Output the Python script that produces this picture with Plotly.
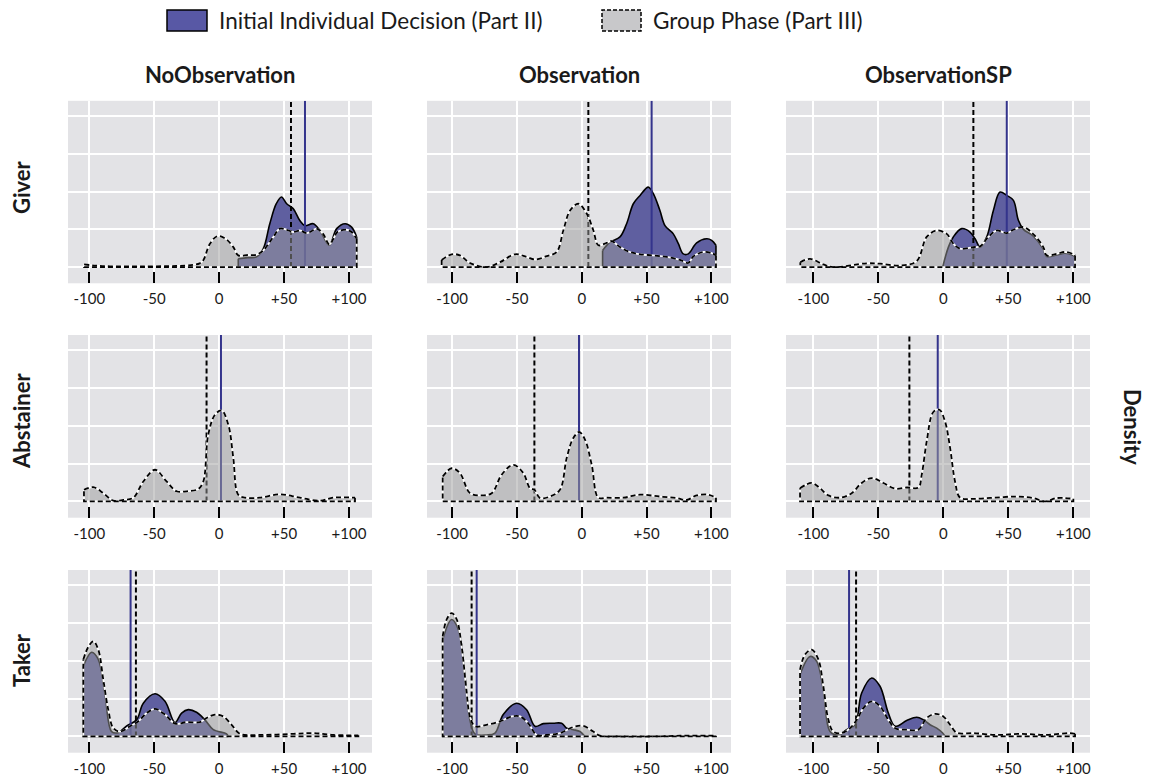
import plotly.graph_objects as go

W, H = 1154, 783
OFF = 8  # page body margin offset of the rendered figure

conditions = ["NoObservation", "Observation", "ObservationSP"]
roles = ["Giver", "Abstainer", "Taker"]
tick_vals = [-100, -50, 0, 50, 100]
tick_text = ["-100", "-50", "0", "+50", "+100"]
grid_y = [0, 1, 2, 3, 4]
legend_labels = ["Initial Individual Decision (Part II)", "Group Phase (Part III)"]

# ---------------- Giver ----------------
giver_noobs_group_x = [-104, -95, -84, -60, -33, -20, -15, -12.2, -7.1, -1.4, 5, 10.9, 14.7, 22, 28.8, 34, 38, 41.7, 46.8, 52, 57, 62.2, 67.4, 71, 75, 80, 84.8, 88, 91, 98.2, 102, 104.6, 105.9]
giver_noobs_group_y = [0.07, 0.04, 0.02, 0.02, 0.03, 0.06, 0.1, 0.18, 0.62, 0.82, 0.75, 0.53, 0.31, 0.32, 0.33, 0.44, 0.62, 0.8, 1.02, 0.99, 0.93, 0.97, 0.9, 0.95, 1.02, 0.88, 0.6, 0.75, 0.93, 0.99, 0.93, 0.82, 0.75]
giver_noobs_init_x = [14.7, 22, 28.8, 34, 39, 44, 48, 52, 57, 62, 66, 72.5, 77.6, 84.8, 90.5, 97, 102, 105.9]
giver_noobs_init_y = [0.22, 0.25, 0.27, 0.49, 1.15, 1.68, 1.86, 1.68, 1.55, 1.24, 1.1, 1.15, 0.97, 0.58, 1.02, 1.15, 1.06, 0.8]

giver_obs_group_x = [-108, -100.3, -93.9, -86.2, -73.3, -63, -51.5, -42.5, -36, -27, -19.3, -14.2, -9, -2.6, 3.8, 9, 12.8, 19.2, 23, 29.5, 37, 44.9, 55, 65.5, 75.8, 82.2, 86, 93.8, 100.2, 103.5]
giver_obs_group_y = [0.19, 0.34, 0.31, 0.11, 0.0, 0.13, 0.34, 0.27, 0.2, 0.29, 0.4, 0.97, 1.5, 1.68, 1.42, 0.97, 0.58, 0.64, 0.69, 0.53, 0.4, 0.34, 0.31, 0.27, 0.19, 0.11, 0.28, 0.4, 0.37, 0.31]
giver_obs_init_x = [16.1, 21.8, 29.5, 34.6, 39.8, 45, 51.3, 55.2, 60.3, 64.2, 70.6, 74.5, 78.3, 82.2, 88.6, 96.3, 100.2, 103.5]
giver_obs_init_y = [0.44, 0.66, 0.8, 1.15, 1.68, 1.9, 2.12, 1.95, 1.5, 1.1, 0.88, 0.62, 0.35, 0.35, 0.64, 0.75, 0.71, 0.58]

giver_obssp_group_x = [-110, -102.5, -92.3, -84.6, -59, -48.7, -33.3, -20.5, -12.8, -5.1, 2.6, 7.7, 12.9, 23.1, 28.3, 34.6, 41, 48.8, 53.9, 61.6, 69.3, 76.9, 79.5, 87.2, 93.6, 100, 101.3]
giver_obssp_group_y = [0.13, 0.22, 0.07, 0.0, 0.1, 0.09, 0.04, 0.16, 0.8, 0.97, 0.88, 0.62, 0.49, 0.53, 0.55, 0.8, 0.97, 0.9, 0.99, 1.06, 0.87, 0.53, 0.31, 0.35, 0.4, 0.34, 0.3]
giver_obssp_init_x = [-0.5, 3.9, 7.7, 14.1, 20.5, 24.4, 28.3, 33.4, 38.5, 43.6, 48.8, 53.9, 57.7, 61.6, 69.3, 76.9, 79.5, 87.2, 93.6, 100, 101.3]
giver_obssp_init_y = [0.0, 0.53, 0.8, 1.02, 0.93, 0.75, 0.53, 0.8, 1.5, 1.99, 1.9, 1.77, 1.24, 1.0, 0.82, 0.48, 0.28, 0.32, 0.37, 0.31, 0.28]

# ---------------- Abstainer ----------------
abst_noobs_group_x = [-104.1, -96.9, -89.2, -81.5, -73.8, -66.1, -58.4, -49.4, -40.5, -32.8, -25.1, -16.1, -12.2, -8.4, -3.2, 1.9, 7, 10.9, 14.7, 19.9, 31.4, 46.8, 62.2, 77.6, 87.9, 104.6]
abst_noobs_group_y = [0.31, 0.38, 0.22, 0.02, 0.04, 0.1, 0.53, 0.84, 0.53, 0.27, 0.27, 0.33, 0.53, 1.77, 2.3, 2.41, 2.04, 1.15, 0.18, 0.1, 0.1, 0.19, 0.1, 0.02, 0.1, 0.1]

abst_obs_group_x = [-107.2, -100.3, -93.9, -86.2, -78.4, -69.4, -61.7, -52.7, -45, -39.9, -36.5, -32.2, -24.5, -16.8, -11.6, -6.5, -1.9, 2.5, 7.7, 12.8, 19.2, 32.1, 44.9, 60.3, 73.2, 80.9, 88.6, 97.6, 103.5]
abst_obs_group_y = [0.66, 0.88, 0.75, 0.22, 0.16, 0.22, 0.71, 0.97, 0.75, 0.35, 0.31, 0.09, 0.13, 0.31, 1.15, 1.68, 1.84, 1.64, 0.97, 0.1, 0.1, 0.1, 0.18, 0.13, 0.09, 0.04, 0.16, 0.18, 0.1]

abst_obssp_group_x = [-110.2, -101.2, -94.8, -88.4, -79.4, -70.5, -62.8, -55.1, -46.1, -37.1, -28.2, -19.2, -16.6, -12.8, -7.7, -3, 1.3, 5.2, 9, 12.9, 23.1, 38.5, 56.4, 69.3, 78.2, 87.2, 100]
abst_obssp_group_y = [0.35, 0.49, 0.35, 0.16, 0.1, 0.22, 0.49, 0.62, 0.49, 0.34, 0.37, 0.37, 0.71, 1.59, 2.37, 2.43, 2.12, 1.42, 0.53, 0.1, 0.07, 0.1, 0.13, 0.09, 0.0, 0.09, 0.07]

# ---------------- Taker ----------------
taker_noobs_group_x = [-104.6, -100.8, -96.9, -93.1, -89.2, -85.4, -81.5, -76.4, -68.7, -62.3, -55.9, -49.4, -41.7, -34, -25.1, -14.8, -9.7, -3.2, 3.2, 9.6, 16, 31.4, 57.1, 72.5, 87.9, 107.2]
taker_noobs_group_y = [2.04, 2.37, 2.52, 2.3, 1.5, 0.71, 0.22, 0.13, 0.27, 0.4, 0.62, 0.73, 0.58, 0.34, 0.38, 0.38, 0.49, 0.58, 0.53, 0.31, 0.07, 0.04, 0.07, 0.09, 0.04, 0.03]
taker_noobs_init_x = [-104.6, -98.2, -93.1, -88, -82.8, -77.7, -71.2, -63.6, -58.4, -49.4, -41.7, -34, -28.9, -23.8, -17.4, -11, -4.5, 5.7, 7]
taker_noobs_init_y = [1.86, 2.23, 2.04, 1.15, 0.13, 0.1, 0.28, 0.44, 0.88, 1.13, 0.93, 0.37, 0.62, 0.71, 0.64, 0.44, 0.18, 0.07, 0.0]

taker_obs_group_x = [-107.2, -104.1, -100.3, -96.4, -92.6, -88.7, -86.2, -82.3, -73.3, -63, -54, -47.6, -41.2, -34.7, -27, -16.8, -6.5, 1.2, 8.9, 14.1, 29.5, 55.2, 75.8, 103.5]
taker_obs_group_y = [2.65, 3.1, 3.27, 3.1, 2.39, 1.15, 0.53, 0.27, 0.31, 0.4, 0.53, 0.53, 0.35, 0.04, 0.04, 0.09, 0.25, 0.28, 0.13, 0.02, 0.0, 0.0, 0.02, 0.02]
taker_obs_init_x = [-107.2, -100.3, -95.1, -90, -86.2, -82.3, -73.3, -66.9, -60.5, -50.2, -42.5, -36, -29.6, -21.9, -15.5, -11.6, -6.5, -1.3, 2.5]
taker_obs_init_y = [2.57, 3.1, 2.83, 1.59, 0.44, 0.07, 0.04, 0.09, 0.58, 0.88, 0.71, 0.27, 0.34, 0.35, 0.35, 0.22, 0.18, 0.13, 0.0]

taker_obssp_group_x = [-110.2, -106.4, -101.2, -96.1, -92.3, -88.4, -84.6, -78.2, -71.7, -66.6, -61.5, -55.1, -48.7, -42.3, -37.1, -28.2, -19.2, -12.8, -6.4, 0, 5.2, 10.3, 23.1, 41.1, 59, 79.5, 97.5, 101.3]
taker_obssp_group_y = [1.77, 2.17, 2.3, 2.04, 1.33, 0.44, 0.13, 0.09, 0.22, 0.44, 0.75, 0.93, 0.8, 0.44, 0.22, 0.18, 0.18, 0.49, 0.6, 0.53, 0.31, 0.1, 0.09, 0.04, 0.07, 0.04, 0.09, 0.07]
taker_obssp_init_x = [-110.2, -102.5, -97.4, -92.3, -87.1, -80.7, -74.3, -67.9, -62.8, -55.1, -48.7, -42.3, -37.1, -28.2, -20.5, -15.3, -10.2, -5.1, -0.5, 1.3]
taker_obssp_init_y = [1.64, 2.12, 1.99, 1.24, 0.13, 0.04, 0.18, 0.31, 1.15, 1.55, 1.33, 0.62, 0.27, 0.42, 0.51, 0.44, 0.31, 0.22, 0.09, 0.0]

# Vertical reference lines (per condition: NoObservation, Observation, ObservationSP)
giver_init_line = [66.1, 53.9, 48.8]
giver_group_line = [55.3, 5.1, 23.1]
abst_init_line = [1.4, -2.1, -4.3]
abst_group_line = [-9.7, -36.5, -26.1]
taker_init_line = [-68.2, -81.0, -72.5]
taker_group_line = [-64.1, -84.9, -67.1]

panels = {
    ("Giver", 0): (giver_noobs_init_x, giver_noobs_init_y, giver_noobs_group_x, giver_noobs_group_y),
    ("Giver", 1): (giver_obs_init_x, giver_obs_init_y, giver_obs_group_x, giver_obs_group_y),
    ("Giver", 2): (giver_obssp_init_x, giver_obssp_init_y, giver_obssp_group_x, giver_obssp_group_y),
    ("Abstainer", 0): (None, None, abst_noobs_group_x, abst_noobs_group_y),
    ("Abstainer", 1): (None, None, abst_obs_group_x, abst_obs_group_y),
    ("Abstainer", 2): (None, None, abst_obssp_group_x, abst_obssp_group_y),
    ("Taker", 0): (taker_noobs_init_x, taker_noobs_init_y, taker_noobs_group_x, taker_noobs_group_y),
    ("Taker", 1): (taker_obs_init_x, taker_obs_init_y, taker_obs_group_x, taker_obs_group_y),
    ("Taker", 2): (taker_obssp_init_x, taker_obssp_init_y, taker_obssp_group_x, taker_obssp_group_y),
}
lines = {
    "Giver": (giver_init_line, giver_group_line),
    "Abstainer": (abst_init_line, abst_group_line),
    "Taker": (taker_init_line, taker_group_line),
}

# ---------------- styling / layout ----------------
FONT = "Lato"
BLUE_FILL = "rgb(95,95,160)"
BLUE_LINE = "rgb(52,52,140)"
GREY_FILL = "rgba(156,156,156,0.5)"
PANEL_BG = "#e3e3e6"
TXT = "#1a1a1a"
SMOOTH = 1.0


def px_x(p):
    return (p - OFF) / W


def px_y(p):
    return 1 - (p - OFF) / H


col_px = [(68, 372), (427, 731), (786, 1090)]
col_xrange = [(-116.4, 117.7), (-119.3, 115.1), (-121.0, 112.8)]
row_px = [(100.8, 283.3), (335, 517.7), (570, 752.7)]
y_range = [-0.43, 4.41]
Y_TOP = y_range[1]

fig = go.Figure()
layout_axes = {}


def edges(xs, ys):
    return [xs[-1], xs[-1], xs[0], xs[0]], [ys[-1], 0, 0, ys[0]]


for r, role in enumerate(roles):
    for c in range(3):
        idx = r * 3 + c + 1
        xa = "x" if idx == 1 else f"x{idx}"
        ya = "y" if idx == 1 else f"y{idx}"
        ix, iy, gx, gy = panels[(role, c)]
        common = dict(xaxis=xa, yaxis=ya, showlegend=False, hoverinfo="skip")
        if ix is not None:
            fig.add_trace(go.Scatter(x=ix, y=iy, mode="lines", fill="tozeroy", fillcolor=BLUE_FILL,
                                     line=dict(color="black", width=1.6, shape="spline", smoothing=SMOOTH),
                                     **common))
            ex, ey = edges(ix, iy)
            fig.add_trace(go.Scatter(x=ex, y=ey, mode="lines",
                                     line=dict(color="black", width=1.6), **common))
        init_l, group_l = lines[role]
        fig.add_trace(go.Scatter(x=[group_l[c], group_l[c]], y=[0, Y_TOP], mode="lines",
                                 line=dict(color="black", width=2, dash="5px,3px"), **common))
        fig.add_trace(go.Scatter(x=[init_l[c], init_l[c]], y=[0, Y_TOP], mode="lines",
                                 line=dict(color=BLUE_LINE, width=2), **common))
        fig.add_trace(go.Scatter(x=gx, y=gy, mode="lines", fill="tozeroy", fillcolor=GREY_FILL,
                                 line=dict(color="white", width=1.8, shape="spline", smoothing=SMOOTH),
                                 **common))
        ex, ey = edges(gx, gy)
        fig.add_trace(go.Scatter(x=ex, y=ey, mode="lines",
                                 line=dict(color="white", width=1.8), **common))
        fig.add_trace(go.Scatter(x=ex, y=ey, mode="lines",
                                 line=dict(color="black", width=1.8, dash="5px,3px"), **common))
        fig.add_trace(go.Scatter(x=gx, y=gy, mode="lines",
                                 line=dict(color="black", width=1.8, dash="5px,3px",
                                           shape="spline", smoothing=SMOOTH), **common))

        x0, x1 = col_px[c]
        t, b = row_px[r]
        xkey = "xaxis" if idx == 1 else f"xaxis{idx}"
        ykey = "yaxis" if idx == 1 else f"yaxis{idx}"
        layout_axes[xkey] = dict(
            domain=[px_x(x0), px_x(x1)], range=list(col_xrange[c]), anchor=ya,
            tickvals=tick_vals, ticktext=tick_text, ticks="inside", ticklen=11,
            tickwidth=2, tickcolor="black", ticklabelstandoff=5,
            tickfont=dict(family=FONT, size=15, color=TXT),
            showgrid=True, gridcolor="white", gridwidth=2, zeroline=False,
            showline=False, fixedrange=True)
        layout_axes[ykey] = dict(
            domain=[px_y(b), px_y(t)], range=y_range, anchor=xa,
            tickvals=grid_y, showticklabels=False, ticks="",
            showgrid=True, gridcolor="white", gridwidth=2, zeroline=False,
            showline=False, fixedrange=True)

annotations = []
for c, name in enumerate(conditions):
    x0, x1 = col_px[c]
    annotations.append(dict(text=f"<b>{name}</b>", x=px_x((x0 + x1) / 2), y=px_y(75),
                            xref="paper", yref="paper", showarrow=False,
                            xanchor="center", yanchor="middle",
                            font=dict(family=FONT, size=22, color=TXT)))
row_label_y = [187, 421, 660]
for r, role in enumerate(roles):
    annotations.append(dict(text=f"<b>{role}</b>", x=px_x(21), y=px_y(row_label_y[r]),
                            xref="paper", yref="paper", showarrow=False, textangle=-90,
                            xanchor="center", yanchor="middle",
                            font=dict(family=FONT, size=22, color=TXT)))
annotations.append(dict(text="<b>Density</b>", x=px_x(1133), y=px_y(427),
                        xref="paper", yref="paper", showarrow=False, textangle=90,
                        xanchor="center", yanchor="middle",
                        font=dict(family=FONT, size=22, color=TXT)))
# legend
annotations.append(dict(text=legend_labels[0], x=px_x(217), y=px_y(21), xref="paper", yref="paper",
                        showarrow=False, xanchor="left", yanchor="middle",
                        font=dict(family=FONT, size=22.5, color=TXT)))
annotations.append(dict(text=legend_labels[1], x=px_x(651), y=px_y(21), xref="paper", yref="paper",
                        showarrow=False, xanchor="left", yanchor="middle",
                        font=dict(family=FONT, size=22.5, color=TXT)))

shapes = [
    dict(type="rect", xref="paper", yref="paper", x0=px_x(167), x1=px_x(207), y0=px_y(31), y1=px_y(10),
         fillcolor="rgb(88,88,165)", line=dict(color="black", width=1.5)),
    dict(type="rect", xref="paper", yref="paper", x0=px_x(602), x1=px_x(641), y0=px_y(31), y1=px_y(10),
         fillcolor="rgb(200,200,202)", line=dict(color="black", width=1.5, dash="4px,2px")),
]

fig.update_layout(
    width=W, height=H,
    margin=dict(l=0, r=0, t=0, b=0, autoexpand=False),
    paper_bgcolor="white", plot_bgcolor=PANEL_BG,
    showlegend=False,
    annotations=annotations, shapes=shapes,
    **layout_axes,
)

fig.write_html("out.html")
